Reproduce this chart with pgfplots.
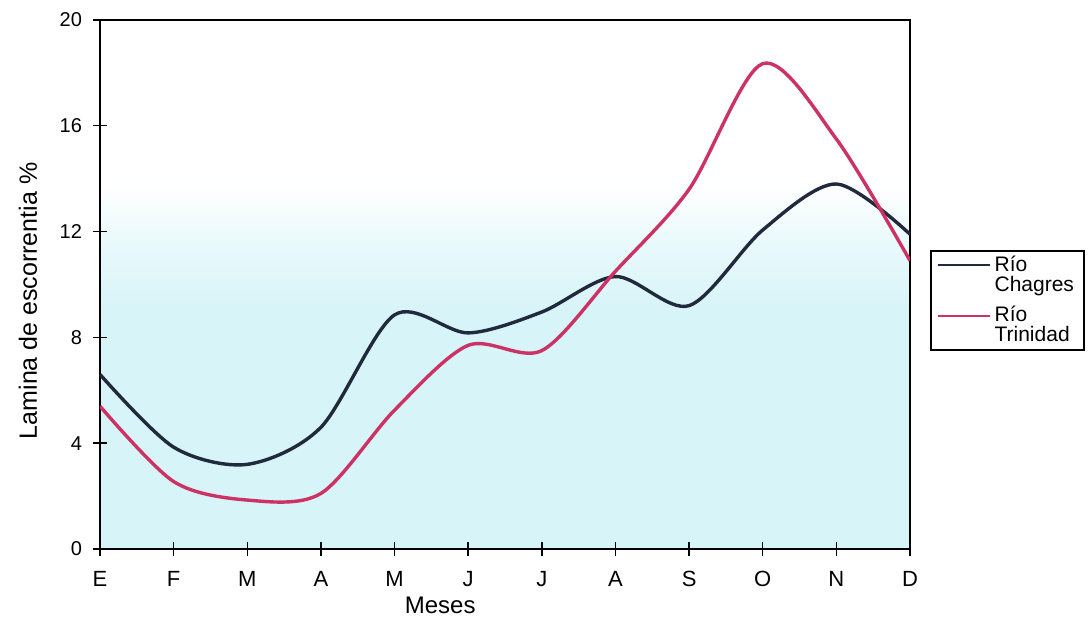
\documentclass[border=0pt]{standalone}
\usepackage{fontspec}
\setmainfont{Liberation Sans}
\usepackage{pgfplots}
\pgfplotsset{compat=1.18}
\definecolor{bgc}{RGB}{215,244,248}
\definecolor{bgc2}{RGB}{232,249,251}
\definecolor{chag}{RGB}{32,42,60}
\definecolor{trin}{RGB}{205,50,100}
\pgfdeclareverticalshading{bgshade}{100bp}{color(0bp)=(bgc); color(25bp)=(bgc); color(47.5bp)=(bgc); color(53.5bp)=(bgc2); color(59.5bp)=(white); color(100bp)=(white)}
\begin{document}
\begin{tikzpicture}
\begin{axis}[
  at={(0,0)}, anchor=south west,
  scale only axis, width=405pt, height=264.5pt,
  xmin=0, xmax=11, ymin=0, ymax=20,
  xtick={0,...,11},
  xticklabels={E,F,M,A,M,J,J,A,S,O,N,D},
  ytick={0,4,8,12,16,20},
  tick pos=left,
  tick align=center,
  major tick length=7pt,
  tick style={black, line width=0.7pt},
  axis line style={black, line width=0.75pt},
  axis background/.style={shading=bgshade},
  /pgf/number format/assume math mode=true,
  yticklabel style={font=\fontsize{10}{10}\selectfont, xshift=-2pt},
  xticklabel style={font=\fontsize{11}{11}\selectfont, yshift=-4pt},
  xlabel={Meses},
  ylabel={Lamina de escorrentia \%},
  xlabel style={font=\fontsize{12}{12}\selectfont, at={(axis description cs:0.42,-0.106)}, anchor=center},
  ylabel style={font=\fontsize{12.5}{12.5}\selectfont, at={(axis description cs:-0.0889,0.469)}, anchor=center},
  legend style={at={(axis description cs:1.0247,0.565)}, anchor=north west,
    draw=black, line width=0.8pt, font=\fontsize{10.5}{10}\selectfont,
    nodes={align=left, inner sep=2pt}, cells={anchor=west},
    inner xsep=3pt, inner ysep=0.5pt, row sep=2pt},
  legend cell align=left,
  legend image code/.code={\draw[#1, line width=0.9pt] (0pt,5pt) -- (26pt,5pt);},
]
\addplot[chag, line width=1.7pt, smooth] coordinates {
  (0,6.6) (1,3.85) (2,3.2) (3,4.6) (4,8.85) (5,8.17) (6,8.96) (7,10.3) (8,9.2) (9,12.06) (10,13.8) (11,11.9)};
\addlegendentry{Río\\Chagres}
\addplot[trin, line width=1.7pt, smooth] coordinates {
  (0,5.4) (1,2.55) (2,1.85) (3,2.1) (4,5.25) (5,7.7) (6,7.5) (7,10.5) (8,13.6) (9,18.35) (10,15.5) (11,10.9)};
\addlegendentry{Río\\Trinidad}
\end{axis}
\pgfresetboundingbox
\path (-50pt,-43.5pt) rectangle (494pt,274.5pt);
\end{tikzpicture}
\end{document}
